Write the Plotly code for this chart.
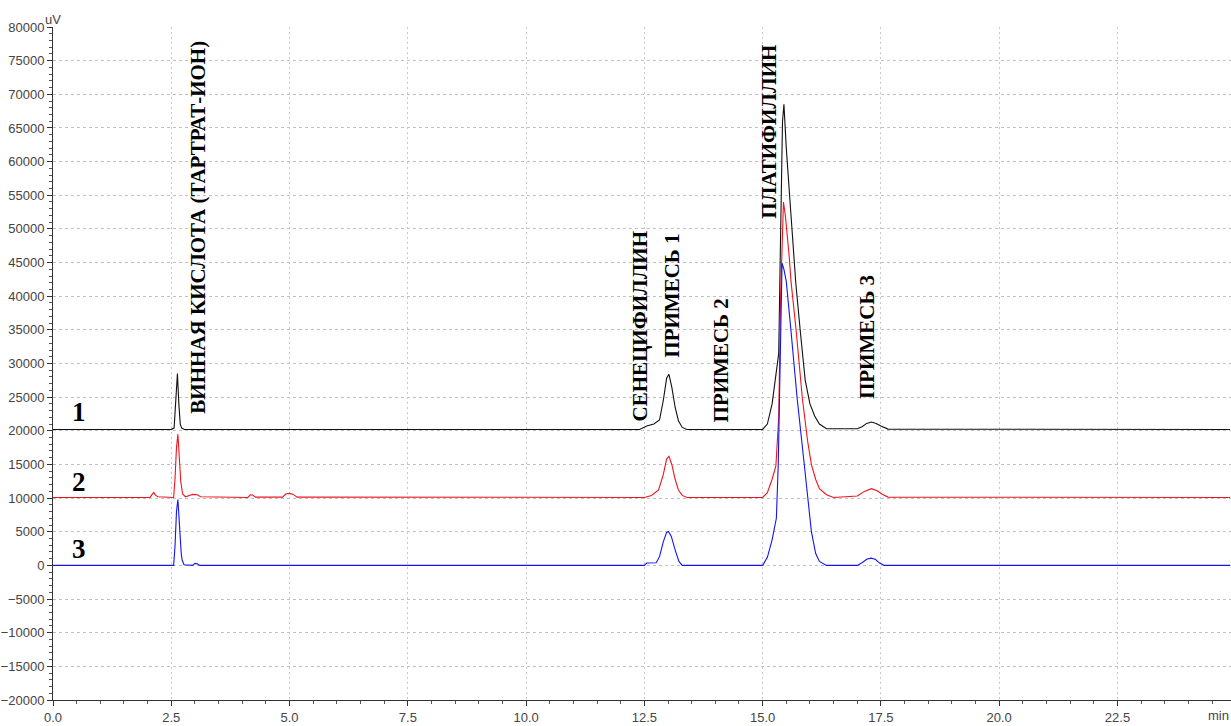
import plotly.graph_objects as go

# ---- data (time in min, signal in uV) ----
t1 = [0, 2.50, 2.56, 2.58, 2.60, 2.63, 2.66, 2.69, 2.72, 2.78,
      12.40, 12.55, 12.70, 12.82, 12.90, 12.97, 13.02, 13.08, 13.15, 13.22, 13.30, 13.40,
      15.00, 15.10, 15.20, 15.30, 15.34, 15.37, 15.42, 15.45, 15.50, 15.60, 15.70, 15.80,
      15.90, 16.00, 16.10, 16.20, 16.35, 17.00, 17.10, 17.20, 17.30, 17.40, 17.50, 17.65, 24.88]
y1 = [20200, 20200, 20400, 23000, 26000, 28500, 24000, 21000, 20400, 20200,
      20200, 20700, 21000, 21600, 24500, 27800, 28400, 26500, 23500, 21500, 20500, 20200,
      20200, 21000, 24000, 29000, 31500, 45000, 66000, 68500, 62000, 52000, 42000, 34500,
      27500, 24000, 22200, 21000, 20300, 20300, 20600, 21100, 21300, 21100, 20700, 20250, 20200]

t2 = [0, 2.05, 2.10, 2.13, 2.17, 2.22, 2.55, 2.58, 2.61, 2.64, 2.67, 2.70, 2.74, 2.80,
      2.88, 2.95, 3.05, 3.12, 4.12, 4.17, 4.22, 4.28, 4.85, 4.92, 5.00, 5.08, 5.16,
      12.50, 12.65, 12.80, 12.90, 12.97, 13.02, 13.08, 13.15, 13.22, 13.30, 13.40,
      15.00, 15.10, 15.20, 15.28, 15.34, 15.38, 15.44, 15.48, 15.56, 15.60, 15.71, 15.84,
      15.95, 16.03, 16.12, 16.20, 16.35, 16.50, 17.00, 17.15, 17.30, 17.42, 17.52, 17.65, 24.88]
y2 = [10100, 10100, 10600, 10850, 10400, 10200, 10100, 13000, 17500, 19500, 16000, 12500, 10600, 10200,
      10400, 10550, 10500, 10200, 10100, 10500, 10450, 10150, 10150, 10600, 10700, 10550, 10150,
      10100, 10400, 11200, 13500, 15800, 16200, 15000, 12800, 11200, 10400, 10100,
      10100, 10800, 12800, 14800, 22000, 40000, 54000, 52000, 46000, 42200, 34800, 24800,
      18500, 15000, 12800, 11400, 10500, 10100, 10300, 11000, 11400, 11100, 10600, 10150, 10100]

t3 = [0, 2.55, 2.58, 2.61, 2.64, 2.67, 2.69, 2.71, 2.73, 2.77, 2.95, 3.00, 3.05, 3.10,
      12.50, 12.55, 12.75, 12.82, 12.90, 12.97, 13.01, 13.07, 13.15, 13.23, 13.30,
      15.00, 15.10, 15.20, 15.29, 15.33, 15.37, 15.41, 15.45, 15.50, 15.60, 15.73, 15.88,
      16.03, 16.12, 16.20, 16.35, 17.00, 17.10, 17.20, 17.29, 17.38, 17.48, 17.58, 24.88]
y3 = [0, 0, 3000, 8000, 9800, 6000, 2500, 1800, 800, 100, 0, 300, 250, 0,
      0, 350, 400, 1300, 3500, 4900, 5050, 4300, 2300, 600, 0,
      0, 1200, 3800, 7000, 15000, 30000, 44900, 44000, 42200, 34800, 24800, 15000,
      5050, 1800, 600, 0, 0, 400, 900, 1080, 900, 300, 0, 0]

peak_labels = ["ВИННАЯ КИСЛОТА (ТАРТРАТ-ИОН)", "СЕНЕЦИФИЛЛИН", "ПРИМЕСЬ 1",
               "ПРИМЕСЬ 2", "ПЛАТИФИЛЛИН", "ПРИМЕСЬ 3"]
label_x = [3.07, 12.41, 13.09, 14.12, 15.14, 17.21]
label_y = [50220, 35510, 40120, 30460, 64490, 33950]

trace_names = ["1", "2", "3"]
trace_colors = ["#111111", "#f0141e", "#1414f0"]
name_x = [0.55, 0.55, 0.55]
name_y = [22730, 12330, 2380]

fig = go.Figure()
for t, y, c, n in zip([t1, t2, t3], [y1, y2, y3], trace_colors, trace_names):
    fig.add_trace(go.Scatter(x=t, y=y, mode="lines", line=dict(color=c, width=1.1),
                             name=n, showlegend=False))

serif = "Liberation Serif, Times New Roman, serif"
for txt, x, y in zip(peak_labels, label_x, label_y):
    fig.add_annotation(x=x, y=y, text="<b>" + txt + "</b>", textangle=-90,
                       showarrow=False, xanchor="center", yanchor="middle",
                       font=dict(family=serif, size=21, color="black"))
for txt, x, y in zip(trace_names, name_x, name_y):
    fig.add_annotation(x=x, y=y, text="<b>" + txt + "</b>", showarrow=False,
                       xanchor="center", yanchor="middle",
                       font=dict(family=serif, size=27, color="black"))

fig.add_annotation(xref="paper", yref="paper", x=0, y=1, text="uV", showarrow=False,
                   xanchor="center", yanchor="bottom", yshift=-2,
                   font=dict(family="Liberation Sans, Arial", size=13, color="#444"))
fig.add_annotation(xref="paper", yref="paper", x=1, y=0, text="min", showarrow=False,
                   xanchor="right", yanchor="top", xshift=0, yshift=-6,
                   font=dict(family="Liberation Sans, Arial", size=13, color="#444"))

fig.update_layout(
    width=1231, height=726,
    margin=dict(l=53, r=0, t=27, b=26),
    paper_bgcolor="white", plot_bgcolor="white",
    xaxis=dict(range=[0, 24.9], dtick=2.5, tick0=0, tickformat=".1f",
               showline=True, linecolor="#333", linewidth=1,
               ticks="outside", ticklen=5, tickcolor="#333",
               minor=dict(dtick=0.5, ticks="outside", ticklen=3, tickcolor="#555", showgrid=False),
               showgrid=True, gridcolor="#c8c8c8", griddash="2px,3px", gridwidth=1,
               zeroline=False,
               tickfont=dict(family="Liberation Sans, Arial", size=13, color="#444")),
    yaxis=dict(range=[-20000, 80000], dtick=5000, tick0=0,
               showline=True, linecolor="#333", linewidth=1,
               ticks="outside", ticklen=5, tickcolor="#333",
               minor=dict(dtick=1000, ticks="outside", ticklen=3, tickcolor="#555", showgrid=False),
               showgrid=True, gridcolor="#c0c0c0", griddash="3px,3px", gridwidth=1,
               zeroline=False, exponentformat="none", tickformat="d",
               tickfont=dict(family="Liberation Sans, Arial", size=13, color="#444")),
)

fig.write_html("out.html", config={"displayModeBar": False},
               post_script="document.body.style.margin='0';document.body.style.padding='0';"
                           "document.body.style.overflow='hidden';")
